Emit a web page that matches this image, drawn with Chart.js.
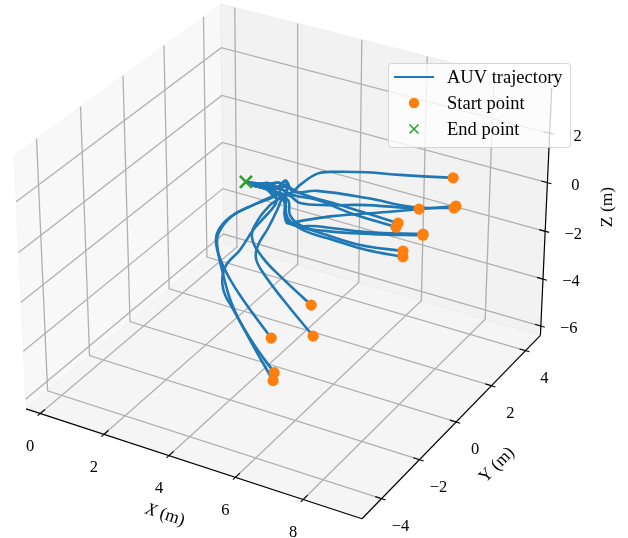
<!DOCTYPE html>
<html>
<head>
<meta charset="utf-8">
<title>AUV trajectories</title>
<script src="https://cdn.jsdelivr.net/npm/chart.js@4/dist/chart.umd.js"></script>
<style>
  html, body { margin: 0; padding: 0; background: #fff; }
  canvas { display: block; }
</style>
</head>
<body>
<canvas id="chart" width="628" height="538"></canvas>
<script>
// --- DATA (metres, [x, y, z]) ---
const xTicks = [0, 2, 4, 6, 8];
const yTicks = [-4, -2, 0, 2, 4];
const zTicks = [-6, -4, -2, 0, 2];
const xLim = [-0.45, 9.7];
const yLim = [-5, 4.9];
const zLim = [-6.4, 3.8];
const legendLabels = ['AUV trajectory', 'Start point', 'End point'];

const endPoint = [2.76, 0.91, 0.09];
// last stretch into the dock, the tracks bunch up here
const tailA = [[3.72, 1.21, -0.08], [3.32, 1.11, 0.00], endPoint];
const tailB = [[3.67, 1.45, 0.11], [3.54, 1.17, -0.04], [3.08, 1.00, 0.02], endPoint];
const tailC = [[3.74, 1.04, -0.21], [3.42, 1.04, -0.08], endPoint];
const tailD = [[3.57, 1.06, -0.12], [3.20, 1.01, -0.02], endPoint];
const tailE = [[3.28, 1.18, 0.06], [3.08, 1.00, 0.02], endPoint];
const tailF = [[3.79, 1.37, 0.00], [3.47, 1.07, -0.08], [3.09, 0.98, 0.00], endPoint];
const tailG = [[3.83, 1.09, -0.21], [3.48, 1.05, -0.10], [3.05, 0.95, 0.00], endPoint];
const tailH = [[3.56, 1.33, 0.06], [3.30, 1.15, 0.04], [2.96, 0.99, 0.06], endPoint];
const tailI = [[3.67, 0.94, -0.25], [3.32, 1.01, -0.06], [3.00, 0.93, 0.00], endPoint];

const track1 = [[7.50, 3.70, 0.17], [6.23, 3.08, 0.23], [5.43, 2.70, 0.29], [4.64, 2.27, 0.30], [4.29, 2.02, 0.25], [4.05, 1.55, 0.02], [3.93, 1.23, -0.15], ...tailA];
const track2 = [[7.90, 3.02, -0.46], [6.94, 2.51, -0.44], [5.77, 2.12, -0.25], [4.52, 1.63, -0.10], [3.98, 1.30, -0.12], ...tailB];
const track3 = [[7.92, 3.09, -0.42], [6.41, 2.06, -0.54], [5.22, 1.27, -0.63], [4.53, 0.73, -0.73], [4.26, 0.52, -0.77], [4.07, 0.74, -0.54], [3.83, 1.18, -0.15], ...tailF];
const track4 = [[7.11, 2.54, -0.48], [5.86, 1.96, -0.40], [4.94, 1.44, -0.40], [4.29, 1.14, -0.36], [3.97, 1.17, -0.21], ...tailD];
const track5 = [[6.81, 1.95, -0.77], [6.05, 1.79, -0.59], [5.24, 1.61, -0.40], [4.16, 1.36, -0.15], ...tailH];
const track6 = [[6.81, 1.84, -0.86], [5.57, 1.56, -0.56], [4.64, 1.43, -0.29], [4.02, 1.23, -0.19], ...tailE];
const track7 = [[7.52, 2.03, -1.00], [6.21, 1.35, -0.96], [4.99, 0.84, -0.84], [4.42, 0.55, -0.81], [4.13, 0.63, -0.65], [3.93, 1.02, -0.29], ...tailB];
const track8 = [[7.53, 2.00, -1.02], [6.37, 1.38, -1.00], [5.28, 0.86, -0.94], [4.53, 0.58, -0.84], [4.19, 0.63, -0.67], [3.90, 1.01, -0.29], ...tailG];
const track9 = [[7.35, 1.25, -1.46], [6.44, 0.94, -1.32], [5.54, 0.73, -1.11], [4.72, 0.57, -0.92], [4.21, 0.64, -0.67], [3.94, 0.94, -0.36], ...tailC];
const track10 = [[7.28, 1.38, -1.34], [6.22, 0.97, -1.22], [5.33, 0.77, -1.02], [4.58, 0.64, -0.81], [4.22, 0.74, -0.61], [3.97, 1.05, -0.29], ...tailI];
const track11 = [[5.88, -0.99, -2.43], [4.92, -0.80, -1.88], [4.17, -0.57, -1.48], [3.64, -0.25, -1.05], [3.55, 0.21, -0.71], [3.63, 0.70, -0.40], [3.75, 1.01, -0.23], ...tailD];
const track12 = [[6.32, -1.64, -3.05], [5.18, -1.24, -2.31], [4.36, -0.88, -1.80], [4.01, -0.66, -1.49], [3.89, -0.35, -1.22], [3.89, 0.16, -0.88], [3.86, 0.68, -0.50], [3.81, 1.02, -0.25], ...tailF];
const track13 = [[5.40, -2.21, -3.09], [4.27, -1.75, -2.31], [3.55, -1.36, -1.82], [3.02, -0.98, -1.32], [2.79, -0.61, -0.98], [2.87, -0.08, -0.65], [3.24, 0.48, -0.40], [3.65, 1.02, -0.19], ...tailG];
const track14 = [[5.90, -2.90, -3.78], [5.06, -2.55, -3.19], [4.18, -2.09, -2.50], [3.69, -1.79, -2.05], [3.43, -1.26, -1.67], [3.54, -0.69, -1.32], [3.57, -0.08, -0.92], [3.64, 0.26, -0.71], [3.74, 0.77, -0.40], ...tailI];
const track15 = [[5.98, -3.09, -3.93], [4.95, -2.52, -3.13], [4.09, -2.00, -2.40], [3.40, -1.36, -1.73], [2.95, -0.87, -1.22], [2.82, -0.56, -0.96], [2.90, -0.04, -0.63], [3.27, 0.53, -0.38], [3.66, 1.06, -0.17], ...tailH];

const tracks = [track1, track2, track3, track4, track5, track6, track7, track8, track9, track10, track11, track12, track13, track14, track15];

// --- CAMERA (same view as a default 3D axes: elev 30, azim -60, box 4:4:3) ---
const elev = 30 * Math.PI / 180;
const azim = -60 * Math.PI / 180;
const camDist = 10;
const boxHalf = [0.5953, 0.5953, 0.4464];
const viewX = [-0.08911, 0.10520];
const viewY = [-0.08928, 0.07692];

const u = [-Math.sin(azim), Math.cos(azim), 0];
const v = [-Math.sin(elev) * Math.cos(azim), -Math.sin(elev) * Math.sin(azim), Math.cos(elev)];
const w = [Math.cos(elev) * Math.cos(azim), Math.cos(elev) * Math.sin(azim), Math.sin(elev)];
const dot = (a, b) => a[0] * b[0] + a[1] * b[1] + a[2] * b[2];
const toBox = (val, lim, half) => (val - (lim[0] + lim[1]) / 2) / ((lim[1] - lim[0]) / 2) * half;

const project = (p) => {
  const q = [toBox(p[0], xLim, boxHalf[0]), toBox(p[1], yLim, boxHalf[1]), toBox(p[2], zLim, boxHalf[2])];
  const d = camDist - dot(q, w);
  return { x: dot(q, u) / d, y: dot(q, v) / d };
};

// --- DATASETS (pushed back to front) ---
const datasets = [];
const addLine = (points, color, width, extra) => {
  datasets.push(Object.assign({
    data: points.map(project),
    showLine: true,
    borderColor: color,
    borderWidth: width,
    pointRadius: 0,
    tension: 0,
    fill: false
  }, extra || {}));
};
const addPane = (points, color) => addLine(points, color, 1, { fill: 'shape', backgroundColor: color });

const [x0, x1] = xLim;
const [y0, y1] = yLim;
const [z0, z1] = zLim;

addPane([[x0, y0, z0], [x0, y1, z0], [x0, y1, z1], [x0, y0, z1], [x0, y0, z0]], 'rgba(242,242,242,0.5)');
addPane([[x0, y1, z0], [x1, y1, z0], [x1, y1, z1], [x0, y1, z1], [x0, y1, z0]], 'rgba(230,230,230,0.5)');
addPane([[x0, y0, z0], [x1, y0, z0], [x1, y1, z0], [x0, y1, z0], [x0, y0, z0]], 'rgba(236,236,236,0.5)');

const gridColor = '#b0b0b0';
xTicks.forEach(t => addLine([[t, y0, z0], [t, y1, z0], [t, y1, z1]], gridColor, 1.3));
yTicks.forEach(t => addLine([[x1, t, z0], [x0, t, z0], [x0, t, z1]], gridColor, 1.3));
zTicks.forEach(t => addLine([[x0, y0, t], [x0, y1, t], [x1, y1, t]], gridColor, 1.3));

// axis lines and tick marks
addLine([[x0, y0, z0], [x1, y0, z0]], '#000', 1.2);
addLine([[x1, y0, z0], [x1, y1, z0]], '#000', 1.2);
addLine([[x1, y1, z0], [x1, y1, z1]], '#000', 1.2);
xTicks.forEach(t => addLine([[t, y0 + 0.22, z0], [t, y0 - 0.12, z0]], '#000', 1.1));
yTicks.forEach(t => addLine([[x1 - 0.18, t, z0], [x1 + 0.12, t, z0]], '#000', 1.1));
zTicks.forEach(t => addLine([[x1 - 0.18, y1, t], [x1 + 0.12, y1, t]], '#000', 1.1));

tracks.forEach(t => addLine(t, '#1f77b4', 2.6, { tension: 0.4 }));

datasets.push({
  data: tracks.map(t => project(t[0])),
  pointStyle: 'circle',
  pointRadius: 5.6,
  pointBackgroundColor: '#ff7f0e',
  pointBorderWidth: 0,
  showLine: false
});
datasets.push({
  data: [project(endPoint)],
  pointStyle: 'crossRot',
  pointRadius: 8.5,
  pointBorderColor: '#2ca02c',
  pointBorderWidth: 2.6,
  showLine: false
});

// chart.js paints the lowest order last
datasets.forEach((ds, i) => { ds.order = datasets.length - i; });

// --- TEXT AND LEGEND ---
const serif = '"Liberation Serif", serif';
const tickFont = '16.5px ' + serif;
const titleFont = '17.5px ' + serif;
const legendFont = '18.5px ' + serif;
const minus = (n) => String(n).replace('-', '\u2212');

const axisText = {
  id: 'axisText',
  afterDatasetsDraw(chart) {
    const { ctx, scales } = chart;
    const toPixel = (p) => {
      const s = project(p);
      return [scales.x.getPixelForValue(s.x), scales.y.getPixelForValue(s.y)];
    };
    const put = (text, px, py, rot, font) => {
      ctx.save();
      ctx.translate(px, py);
      ctx.rotate((rot || 0) * Math.PI / 180);
      ctx.font = font || tickFont;
      ctx.fillStyle = '#000';
      ctx.textAlign = 'center';
      ctx.textBaseline = 'middle';
      ctx.fillText(text, 0, 0);
      ctx.restore();
    };

    xTicks.forEach(t => {
      const [px, py] = toPixel([t, y0, z0]);
      put(minus(t), px - 10, py + 33);
    });
    yTicks.forEach(t => {
      const [px, py] = toPixel([x1, t, z0]);
      put(minus(t), px + 19, py + 28);
    });
    zTicks.forEach(t => {
      const [px, py] = toPixel([x1, y1, t]);
      put(minus(t), px + 28, py + 3);
    });

    // axis titles
    ctx.save();
    ctx.translate(165, 515);
    ctx.rotate(18 * Math.PI / 180);
    ctx.fillStyle = '#000';
    ctx.textBaseline = 'middle';
    ctx.font = 'italic ' + titleFont;
    const xW = ctx.measureText('X').width;
    ctx.font = titleFont;
    const mW = ctx.measureText(' (m)').width;
    ctx.font = 'italic ' + titleFont;
    ctx.textAlign = 'left';
    ctx.fillText('X', -(xW + mW) / 2, 0);
    ctx.font = titleFont;
    ctx.fillText(' (m)', -(xW + mW) / 2 + xW, 0);
    ctx.restore();
    put('Y (m)', 497, 465, -45, titleFont);
    put('Z (m)', 607, 207, -90, titleFont);

    // legend box
    ctx.save();
    ctx.beginPath();
    ctx.roundRect(388.5, 63.5, 182, 84, 3);
    ctx.fillStyle = 'rgba(255,255,255,0.8)';
    ctx.fill();
    ctx.strokeStyle = 'rgba(204,204,204,0.8)';
    ctx.lineWidth = 1;
    ctx.stroke();

    ctx.strokeStyle = '#1f77b4';
    ctx.lineWidth = 2;
    ctx.beginPath();
    ctx.moveTo(394, 77);
    ctx.lineTo(434, 77);
    ctx.stroke();

    ctx.fillStyle = '#ff7f0e';
    ctx.beginPath();
    ctx.arc(414, 103, 5.2, 0, Math.PI * 2);
    ctx.fill();

    ctx.strokeStyle = '#2ca02c';
    ctx.lineWidth = 1.5;
    ctx.beginPath();
    ctx.moveTo(409.5, 124.5);
    ctx.lineTo(418.5, 133.5);
    ctx.moveTo(418.5, 124.5);
    ctx.lineTo(409.5, 133.5);
    ctx.stroke();

    ctx.font = legendFont;
    ctx.fillStyle = '#000';
    ctx.textAlign = 'left';
    ctx.textBaseline = 'alphabetic';
    legendLabels.forEach((label, i) => ctx.fillText(label, 447, 83 + i * 26));
    ctx.restore();
  }
};

// --- CHART ---
new Chart(document.getElementById('chart'), {
  type: 'scatter',
  data: { datasets },
  plugins: [axisText],
  options: {
    responsive: false,
    animation: false,
    layout: { padding: 0, autoPadding: false },
    plugins: { legend: { display: false }, tooltip: { enabled: false } },
    scales: {
      x: { type: 'linear', display: false, min: viewX[0], max: viewX[1] },
      y: { type: 'linear', display: false, min: viewY[0], max: viewY[1] }
    }
  }
});
</script>
</body>
</html>
